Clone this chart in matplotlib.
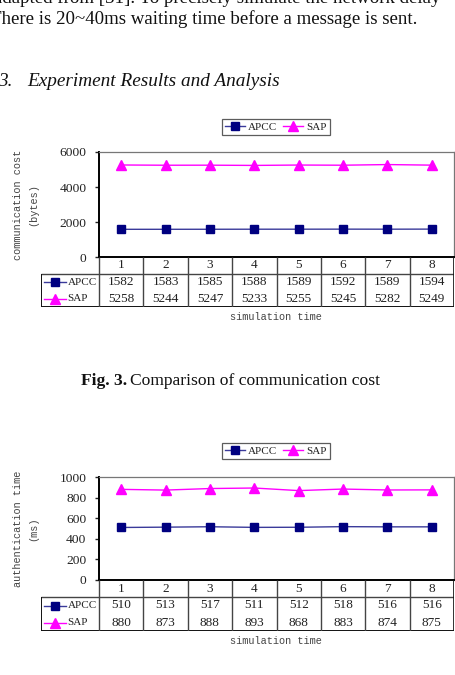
import matplotlib
matplotlib.use("Agg")
import matplotlib.pyplot as plt
from matplotlib.lines import Line2D

# data
sim_time = [1, 2, 3, 4, 5, 6, 7, 8]
comm_apcc = [1582, 1583, 1585, 1588, 1589, 1592, 1589, 1594]
comm_sap = [5258, 5244, 5247, 5233, 5255, 5245, 5282, 5249]
auth_apcc = [510, 513, 517, 511, 512, 518, 516, 516]
auth_sap = [880, 873, 888, 893, 868, 883, 874, 875]
series_names = ["APCC", "SAP"]

W, H = 455, 675
SERIF = "Liberation Serif"
MONO = "Liberation Mono"
TXT = "#222222"
NAVY = "#000080"
NAVY_LINE = "#3a3a9a"
MAGENTA = "#ff00ff"


def fx(px):
    return px / W


def fy(py):
    return 1 - py / H


fig = plt.figure(figsize=(W / 100, H / 100), dpi=100)
fig.patch.set_facecolor("white")

# page text around the figures (cut by the page edges as in the scan)
fig.text(fx(-6), fy(3), "adapted from [31]. To precisely simulate the network delay",
         family=SERIF, fontsize=13.6, color="#111111", va="baseline")
fig.text(fx(-10.5), fy(24), "There is 20~40ms waiting time before a message is sent.",
         family=SERIF, fontsize=13.6, color="#111111", va="baseline")
fig.text(fx(-1.5), fy(86), "3.", family=SERIF, fontsize=13.8, style="italic",
         color="#111111", va="baseline")
fig.text(fx(27), fy(86), "Experiment Results and Analysis",
         family=SERIF, fontsize=13.9, style="italic", color="#111111", va="baseline")


def draw_chart(top, bottom, apcc, sap, ymax, ystep, ylabel, legend_y, row_h):
    left, right = 99, 454
    col_w = (right - left) / 8
    ax = fig.add_axes([fx(left), fy(bottom), (right - left) / W, (bottom - top) / H])
    ax.plot(sim_time, apcc, color=NAVY_LINE, lw=1.0, marker="s", ms=5.5,
            mfc=NAVY, mec=NAVY, label=series_names[0])
    ax.plot(sim_time, sap, color=MAGENTA, lw=1.0, marker="^", ms=7,
            mfc=MAGENTA, mec=MAGENTA, label=series_names[1])
    ax.set_xlim(0.5, 8.5)
    ax.set_ylim(0, ymax)
    ax.set_yticks(range(0, ymax + 1, ystep))
    ax.set_xticks([])
    for lab in ax.get_yticklabels():
        lab.set_family(SERIF)
    ax.tick_params(axis="y", labelsize=9.7, colors=TXT, length=3, width=1, pad=6)
    ax.spines["left"].set_linewidth(1.4)
    ax.spines["bottom"].set_linewidth(1.4)
    for s in ["top", "right"]:
        ax.spines[s].set_color("#777777")
        ax.spines[s].set_linewidth(0.9)
    # y label in two lines, monospace
    cy = (top + bottom) / 2
    l1, l2 = ylabel
    fig.text(fx(18), fy(cy), l1, family=MONO, fontsize=7.4, color="#444444",
             rotation=90, ha="center", va="center")
    fig.text(fx(33), fy(cy), l2, family=MONO, fontsize=7.4, color="#444444",
             rotation=90, ha="center", va="center")

    # legend box on top
    handles = [Line2D([], [], color=NAVY_LINE, lw=1.0, marker="s", ms=5.5, mfc=NAVY, mec=NAVY),
               Line2D([], [], color=MAGENTA, lw=1.0, marker="^", ms=7, mfc=MAGENTA, mec=MAGENTA)]
    leg = fig.legend(handles, series_names, loc="center", ncol=2,
                     bbox_to_anchor=(fx(276), fy(legend_y)), frameon=True,
                     fancybox=False, shadow=False, handlelength=1.8, handletextpad=0.3,
                     columnspacing=0.5, borderpad=0.3,
                     prop={"family": SERIF, "size": 8})
    leg.get_frame().set_edgecolor("#333333")
    leg.get_frame().set_linewidth(0.9)
    for t in leg.get_texts():
        t.set_color(TXT)

    # data table under the axes
    tleft = 41
    xl = 0.5 - (left - tleft) / col_w
    tb = bottom + 3 * row_h
    tax = fig.add_axes([fx(tleft), fy(tb), (right - tleft) / W, 3 * row_h / H])
    tax.set_xlim(xl, 8.5)
    tax.set_ylim(0, 3)
    tax.axis("off")
    grid = "#444444"
    tax.hlines(2, xl, 8.5, color=grid, lw=1.0)
    tax.hlines(0, xl, 8.5, color="#111111", lw=1.4)
    tax.vlines([x + 0.5 for x in range(0, 8)], 0, 3, color=grid, lw=1.0)
    tax.vlines(8.5, 0, 3, color="#111111", lw=1.2)
    tax.vlines(xl, 0, 2, color="#111111", lw=1.4)
    for i, t in enumerate(sim_time):
        tax.text(t, 2.5, str(t), family=SERIF, fontsize=9.5, color=TXT,
                 ha="center", va="center")
        tax.text(t, 1.5, str(apcc[i]), family=SERIF, fontsize=9.5, color=TXT,
                 ha="center", va="center")
        tax.text(t, 0.5, str(sap[i]), family=SERIF, fontsize=9.5, color=TXT,
                 ha="center", va="center")
    # legend keys inside the label column
    kx0, kx1 = xl + 0.07, xl + 0.57
    tax.plot([kx0, kx1], [1.5, 1.5], color=NAVY_LINE, lw=1.0)
    tax.plot([(kx0 + kx1) / 2], [1.5], marker="s", ms=5.5, color=NAVY)
    tax.plot([kx0, kx1], [0.5, 0.5], color=MAGENTA, lw=1.0)
    tax.plot([(kx0 + kx1) / 2], [0.5], marker="^", ms=7, color=MAGENTA)
    tax.text(kx1 + 0.03, 1.5, series_names[0], family=SERIF, fontsize=8,
             color=TXT, ha="left", va="center")
    tax.text(kx1 + 0.03, 0.5, series_names[1], family=SERIF, fontsize=8,
             color=TXT, ha="left", va="center")

    fig.text(fx(276), fy(tb + 10), "simulation time", family=MONO, fontsize=7.4,
             color="#444444", ha="center", va="center")
    return ax


draw_chart(152, 257, comm_apcc, comm_sap, 6000, 2000,
           ("communication cost", "(bytes)"), 127, 16.7)
draw_chart(477, 580, auth_apcc, auth_sap, 1000, 200,
           ("authentication time", "(ms)"), 451, 17.0)

# caption of the first figure
fig.text(fx(127), fy(381), "Fig. 3.", family=SERIF, fontsize=12.6, weight="bold",
         color="#111111", ha="right", va="center")
fig.text(fx(130), fy(381), "Comparison of communication cost", family=SERIF,
         fontsize=12.6, color="#111111", ha="left", va="center")

plt.savefig("out.png", dpi=100)
